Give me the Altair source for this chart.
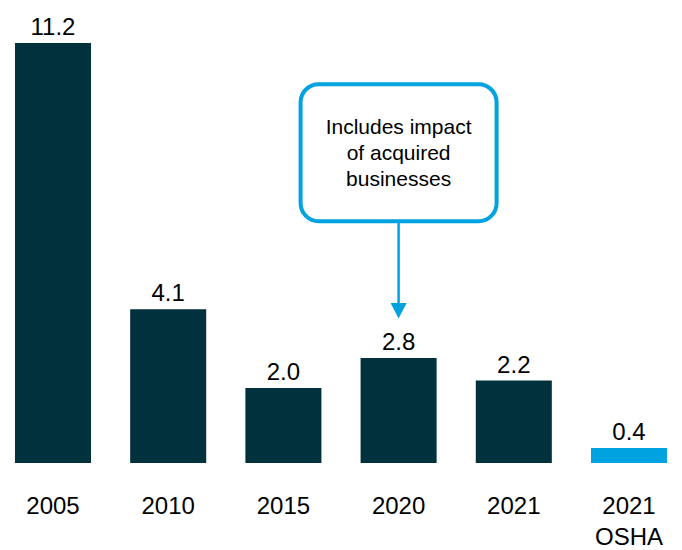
import altair as alt
import pandas as pd

categories = ["2005", "2010", "2015", "2020", "2021", "2021 OSHA"]
values = [11.2, 4.1, 2.0, 2.8, 2.2, 0.4]
labels = ["11.2", "4.1", "2.0", "2.8", "2.2", "0.4"]
colors = ["#01313D", "#01313D", "#01313D", "#01313D", "#01313D", "#00A3E0"]

callout_cat = ["2020"]
callout_text = ["Includes impact\nof acquired\nbusinesses"]
box_top = [10.1]
box_bottom = [6.45]
text_y = [8.93]
arrow_end = [4.2]
arrow_tip = [4.05]

df = pd.DataFrame({"cat": categories, "value": values, "label": labels, "color": colors})
ann = pd.DataFrame({"cat": callout_cat, "text": callout_text, "top": box_top,
                    "bottom": box_bottom, "ty": text_y, "aend": arrow_end, "tip": arrow_tip})

FONT = "Liberation Sans"
xscale = alt.Scale(domain=categories, paddingInner=0.34, paddingOuter=0.13)
yscale = alt.Scale(domain=[0, 12])

x = alt.X("cat:N", scale=xscale, sort=categories,
          axis=alt.Axis(title=None, labelAngle=0, domain=False, ticks=False, grid=False,
                        labelFont=FONT, labelFontSize=24, labelColor="#000000",
                        labelPadding=31, labelLineHeight=31,
                        labelExpr="split(datum.label, ' ')"))

bars = alt.Chart(df).mark_bar().encode(
    x=x,
    y=alt.Y("value:Q", scale=yscale, axis=None),
    color=alt.Color("color:N", scale=None),
)

vals = alt.Chart(df).mark_text(font=FONT, fontSize=24, color="#000000",
                               baseline="alphabetic", dy=-8).encode(
    x=x, y=alt.Y("value:Q", scale=yscale, axis=None), text="label:N")

box = alt.Chart(ann).mark_bar(width=196, cornerRadius=18, fill="white",
                              stroke="#00A3E0", strokeWidth=4).encode(
    x=x, y=alt.Y("top:Q", scale=yscale, axis=None), y2="bottom:Q")

btext = alt.Chart(ann).mark_text(font=FONT, fontSize=21, color="#000000",
                                 lineBreak="\n", lineHeight=26, baseline="middle").encode(
    x=x, y=alt.Y("ty:Q", scale=yscale, axis=None), text="text:N")

arrow = alt.Chart(ann).mark_rule(color="#00A3E0", strokeWidth=2.5).encode(
    x=x, y=alt.Y("bottom:Q", scale=yscale, axis=None), y2="aend:Q")

head = alt.Chart(ann).mark_point(shape="M-1,-1L1,-1L0,0.9Z", filled=True, color="#00A3E0",
                                 size=260, opacity=1).encode(
    x=x, y=alt.Y("tip:Q", scale=yscale, axis=None))

chart = alt.layer(bars, vals, box, btext, arrow, head).properties(
    width=682, height=450,
    padding={"left": 0, "right": 0, "top": 13, "bottom": 87},
    autosize=alt.AutoSizeParams(type="none"),
).configure_view(stroke=None)

chart.save("out.html", embed_options={"renderer": "svg", "actions": False})
